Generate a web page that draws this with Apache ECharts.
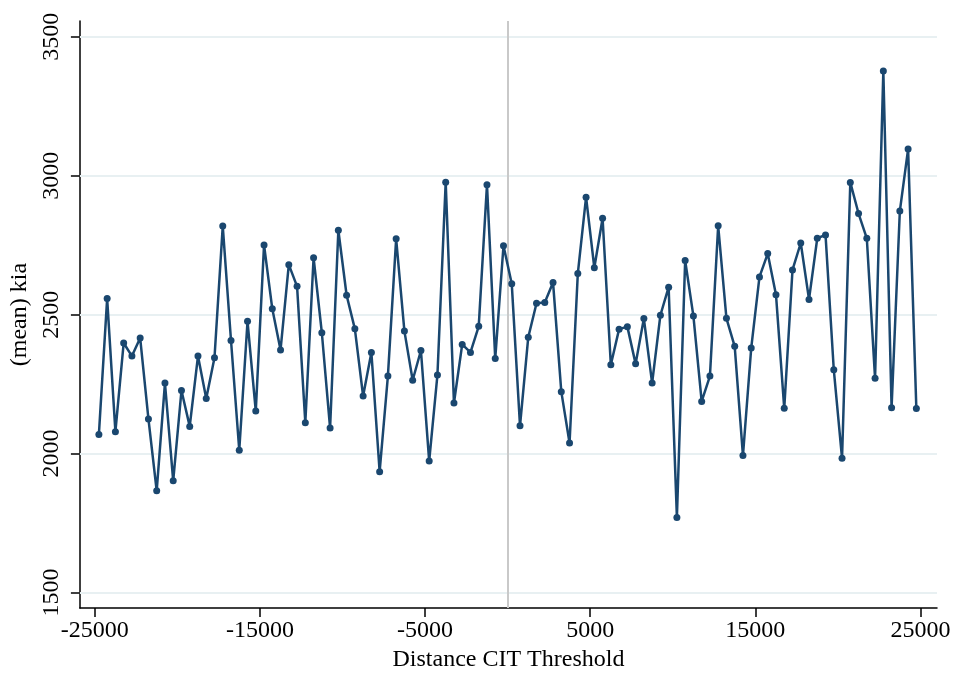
<!DOCTYPE html>
<html>
<head>
<meta charset="utf-8">
<script src="https://cdn.jsdelivr.net/npm/echarts@6/dist/echarts.min.js"></script>
<style>
html,body{margin:0;padding:0;background:#fff;}
#chart{width:955px;height:677px;}
</style>
</head>
<body>
<div id="chart"></div>
<script>
const distance = [
-24750,-24250,-23750,-23250,-22750,-22250,-21750,-21250,-20750,-20250,
-19750,-19250,-18750,-18250,-17750,-17250,-16750,-16250,-15750,-15250,
-14750,-14250,-13750,-13250,-12750,-12250,-11750,-11250,-10750,-10250,
-9750,-9250,-8750,-8250,-7750,-7250,-6750,-6250,-5750,-5250,
-4750,-4250,-3750,-3250,-2750,-2250,-1750,-1250,-750,-250,
250,750,1250,1750,2250,2750,3250,3750,4250,4750,
5250,5750,6250,6750,7250,7750,8250,8750,9250,9750,
10250,10750,11250,11750,12250,12750,13250,13750,14250,14750,
15250,15750,16250,16750,17250,17750,18250,18750,19250,19750,
20250,20750,21250,21750,22250,22750,23250,23750,24250,24750
];
const kia = [
2069,2558,2079,2398,2351,2416,2125,1866,2254,1902,
2227,2098,2351,2198,2345,2819,2407,2012,2476,2153,
2751,2521,2373,2680,2602,2111,2705,2435,2092,2804,
2570,2449,2207,2364,1935,2279,2773,2441,2264,2371,
1973,2283,2977,2182,2393,2364,2458,2968,2342,2748,
2611,2100,2419,2541,2544,2616,2223,2038,2648,2923,
2669,2847,2320,2448,2457,2323,2486,2254,2498,2599,
1770,2695,2495,2188,2279,2820,2487,2386,1993,2380,
2636,2720,2572,2163,2661,2758,2555,2775,2787,2302,
1983,2976,2864,2775,2271,3377,2165,2873,3096,2162
];
const xTicks = [-25000,-15000,-5000,5000,15000,25000];
const yTicks = [1500,2000,2500,3000,3500];
const thresholdX = [0];

const FONT = '"Liberation Serif","Times New Roman",serif';
const chart = echarts.init(document.getElementById('chart'), null, {renderer:'canvas'});
chart.setOption({
  animation:false,
  backgroundColor:'#ffffff',
  grid:{left:78, right:18, top:21, bottom:64},
  xAxis:{
    type:'value', min:-25900, max:26000,
    name:'Distance CIT Threshold', nameLocation:'middle', nameGap:38,
    nameTextStyle:{fontFamily:FONT, fontSize:24, color:'#000'},
    axisLine:{show:true, onZero:false, lineStyle:{color:'#000', width:1.5}},
    axisTick:{show:true, length:9, customValues:xTicks, lineStyle:{color:'#000', width:1.5}},
    axisLabel:{customValues:xTicks, margin:11, fontFamily:FONT, fontSize:24, color:'#000', formatter:v=>String(v)},
    splitLine:{show:false}
  },
  yAxis:{
    type:'value', min:1444, max:3557,
    name:'(mean) kia', nameLocation:'middle', nameGap:45,
    nameTextStyle:{fontFamily:FONT, fontSize:24, color:'#000'},
    axisLine:{show:true, onZero:false, lineStyle:{color:'#000', width:1.5}},
    axisTick:{show:true, length:9, customValues:yTicks, lineStyle:{color:'#000', width:1.5}},
    axisLabel:{customValues:yTicks, rotate:90, margin:16, fontFamily:FONT, fontSize:24, color:'#000', formatter:v=>String(v)},
    splitLine:{show:false}
  },
  series:[
    {
      type:'line', data:[], z:1, silent:true,
      markLine:{
        z:1, zlevel:0, silent:true, symbol:['none','none'], label:{show:false},
        lineStyle:{color:'#e8f0f2', width:2, type:'solid'},
        data: yTicks.map(v=>({yAxis:v}))
      }
    },
    {
      type:'line', data:[], z:1, silent:true,
      markLine:{
        z:1, zlevel:0, silent:true, symbol:['none','none'], label:{show:false},
        lineStyle:{color:'#c9c9c9', width:2, type:'solid'},
        data: thresholdX.map(v=>({xAxis:v}))
      }
    },
    {
      type:'line', z:3,
      data: distance.map((d,i)=>[d, kia[i]]),
      symbol:'circle', symbolSize:7, showSymbol:true,
      lineStyle:{color:'#1a476f', width:2.5},
      itemStyle:{color:'#1a476f'}
    }
  ]
});
</script>
</body>
</html>
